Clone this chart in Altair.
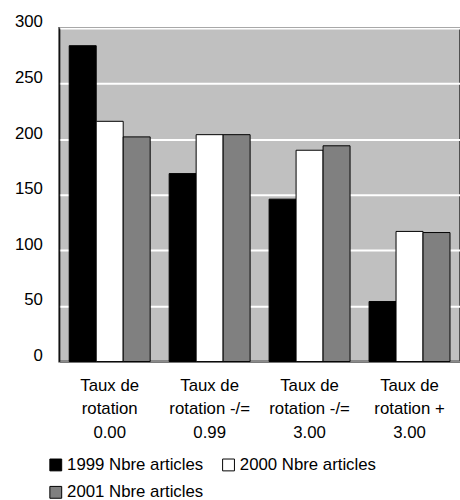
import altair as alt
import pandas as pd

# Rotation-rate classes (label lines separated by "|")
categories = [
    "Taux de|rotation|0.00",
    "Taux de|rotation -/=|0.99",
    "Taux de|rotation -/=|3.00",
    "Taux de|rotation +|3.00",
]
series_names = ["1999 Nbre articles", "2000 Nbre articles", "2001 Nbre articles"]
values_1999 = [284, 169, 146, 54]
values_2000 = [216, 204, 190, 117]
values_2001 = [202, 204, 194, 116]
y_ticks = [0, 50, 100, 150, 200, 250, 300]

rows = []
for name, vals in zip(series_names, [values_1999, values_2000, values_2001]):
    for cat, v in zip(categories, vals):
        rows.append({"categorie": cat, "serie": name, "valeur": v})
df = pd.DataFrame(rows)

FONT = "Liberation Sans"

chart = (
    alt.Chart(df)
    .mark_bar(stroke="black", strokeWidth=1)
    .encode(
        x=alt.X(
            "categorie:N",
            sort=categories,
            title=None,
            scale=alt.Scale(paddingInner=0.19, paddingOuter=0.1),
            axis=alt.Axis(
                labelAngle=0,
                labelExpr="split(datum.label, '|')",
                labelFont=FONT,
                labelFontSize=17,
                labelColor="black",
                labelLineHeight=24,
                labelPadding=16,
                ticks=False,
                domainColor="black",
                grid=False,
            ),
        ),
        xOffset=alt.XOffset("serie:N", sort=series_names, scale=alt.Scale(paddingInner=0, paddingOuter=0)),
        y=alt.Y(
            "valeur:Q",
            title=None,
            scale=alt.Scale(domain=[0, 300], nice=False),
            axis=alt.Axis(
                values=y_ticks,
                labelFont=FONT,
                labelFontSize=17,
                labelColor="black",
                labelPadding=17,
                labelOffset=-6,
                ticks=False,
                domainColor="black",
                grid=True,
                gridColor="white",
                gridWidth=2,
            ),
        ),
        fill=alt.Fill(
            "serie:N",
            sort=series_names,
            scale=alt.Scale(domain=series_names, range=["black", "white", "#808080"]),
            legend=alt.Legend(
                title=None,
                orient="none",
                direction="horizontal",
                legendX=-12,
                legendY=434,
                columns=2,
                columnPadding=17,
                rowPadding=10,
                symbolType="square",
                symbolSize=144,
                symbolStrokeColor="black",
                symbolStrokeWidth=1,
                labelFont=FONT,
                labelFontSize=17,
                labelColor="black",
                labelOffset=3,
                labelLimit=300,
            ),
        ),
    )
    .properties(
        width=406,
        height=338,
        autosize=alt.AutoSizeParams(type="none"),
        padding={"left": 60, "top": 25, "right": 0, "bottom": 137},
        background="white",
    )
    .configure_view(fill="#C0C0C0", stroke="#505050", strokeWidth=2)
)

chart.save("out.html", embed_options={"renderer": "svg", "actions": False})
